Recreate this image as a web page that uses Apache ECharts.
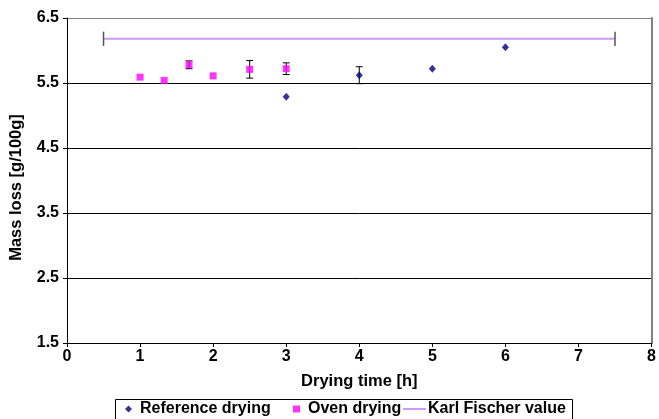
<!DOCTYPE html>
<html>
<head>
<meta charset="utf-8">
<script src="https://cdn.jsdelivr.net/npm/echarts@6/dist/echarts.min.js"></script>
<style>
  html, body { margin: 0; padding: 0; background: #fff; }
  #chart { width: 659px; height: 419px; }
</style>
</head>
<body>
<div id="chart"></div>
<script>
// ── 数据 ──
const refX = [3, 4, 5, 6];
const refY = [5.29, 5.62, 5.72, 6.05];
const refErr = [0, 0.13, 0, 0];

const ovenX = [1, 1.33, 1.67, 2, 2.5, 3];
const ovenY = [5.59, 5.54, 5.78, 5.61, 5.71, 5.72];
const ovenErr = [0, 0, 0.06, 0, 0.135, 0.09];

const kfX = [0.5, 7.5];
const kfY = [6.18, 6.18];
const kfErr = 0.11;

const yTicks = [1.5, 2.5, 3.5, 4.5, 5.5, 6.5];
const xTicks = [0, 1, 2, 3, 4, 5, 6, 7, 8];

const FONT = "'Liberation Sans', Arial, sans-serif";
const chart = echarts.init(document.getElementById('chart'));

// 误差棒：竖线 + 上下短横
function errBarRender(capHalf, color, width) {
  return function (params, api) {
    const x = api.value(0), y = api.value(1), e = api.value(2);
    if (!e) return null;
    const top = api.coord([x, y + e]);
    const bot = api.coord([x, y - e]);
    const st = { stroke: color, lineWidth: width };
    const kids = [
      { type: 'line', shape: { x1: top[0], y1: top[1], x2: bot[0], y2: bot[1] }, style: st },
    ];
    if (capHalf > 0) {
      kids.push({ type: 'line', shape: { x1: top[0] - capHalf, y1: top[1], x2: top[0] + capHalf, y2: top[1] }, style: st });
      kids.push({ type: 'line', shape: { x1: bot[0] - capHalf, y1: bot[1], x2: bot[0] + capHalf, y2: bot[1] }, style: st });
    }
    return { type: 'group', children: kids };
  };
}

const zip = (xs, ys) => xs.map((x, i) => [x, ys[i]]);
const zip3 = (xs, ys, es) => xs.map((x, i) => [x, ys[i], es[i]]);

const txt = (size) => ({ fontSize: size, fontWeight: 'bold', color: '#000', fontFamily: FONT });

chart.setOption({
  animation: false,
  textStyle: { fontFamily: FONT },
  grid: { left: 65, right: 2, top: 18, bottom: 76 },
  xAxis: {
    type: 'value', min: xTicks[0], max: xTicks[xTicks.length - 1], interval: 1,
    name: 'Drying time [h]', nameLocation: 'middle', nameGap: 30,
    nameTextStyle: txt(16.5),
    axisLine: { lineStyle: { color: '#000', width: 1 } },
    axisTick: { inside: false, length: 4, lineStyle: { color: '#000' } },
    axisLabel: Object.assign(txt(16), { margin: 6 }),
    splitLine: { show: false },
  },
  yAxis: [{
    type: 'value', min: yTicks[0], max: yTicks[yTicks.length - 1], interval: 1,
    name: 'Mass loss [g/100g]', nameLocation: 'middle', nameGap: 42,
    nameTextStyle: Object.assign(txt(16.5), { padding: [0, 14, 0, 0] }),
    axisLine: { show: true, lineStyle: { color: '#000', width: 1 } },
    axisTick: { show: true, length: 4, lineStyle: { color: '#000' } },
    axisLabel: Object.assign(txt(16), { margin: 8, formatter: v => v.toFixed(1) }),
    splitLine: { show: true, lineStyle: { color: ['#000', '#000', '#000', '#000', '#000', '#808080'], width: 1 } },
  }, {
    type: 'value', position: 'right', min: yTicks[0], max: yTicks[yTicks.length - 1],
    axisLine: { show: true, lineStyle: { color: '#808080', width: 2 } },
    axisTick: { show: false }, axisLabel: { show: false }, splitLine: { show: false },
  }],
  legend: [
    {
      data: [{ name: 'Reference drying', icon: 'diamond' }],
      left: 125, top: 401, padding: 0, itemWidth: 7, itemHeight: 7,
      textStyle: Object.assign(txt(16), { padding: [0, 0, 0, 3] }),
    },
    {
      data: [{ name: 'Oven drying', icon: 'rect' }],
      left: 293, top: 401, padding: 0, itemWidth: 7, itemHeight: 7,
      textStyle: Object.assign(txt(16), { padding: [0, 0, 0, 3] }),
    },
    {
      data: ['Karl Fischer value'],
      left: 402, top: 401, padding: 0, itemWidth: 23, itemHeight: 10, itemGap: 0,
      itemStyle: { opacity: 0 },
      textStyle: Object.assign(txt(16), { padding: [0, 0, 0, -3] }),
    },
  ],
  graphic: [{
    type: 'rect', left: 113, top: 397,
    shape: { width: 457, height: 30 },
    style: { fill: 'none', stroke: '#000', lineWidth: 1 },
    z: 100,
  }],
  series: [
    {
      name: 'Karl Fischer value', type: 'line', data: zip(kfX, kfY),
      symbol: 'none', lineStyle: { color: '#cc99ff', width: 2 }, itemStyle: { color: '#cc99ff' }, z: 2,
    },
    {
      type: 'custom', renderItem: errBarRender(0, '#555', 1.5),
      data: kfX.map((x, i) => [x, kfY[i], kfErr]), z: 3, silent: true,
    },
    {
      type: 'custom', renderItem: errBarRender(3.5, '#000', 1),
      data: zip3(ovenX, ovenY, ovenErr), z: 3, silent: true,
    },
    {
      type: 'custom', renderItem: errBarRender(3.5, '#000', 1),
      data: zip3(refX, refY, refErr), z: 3, silent: true,
    },
    {
      name: 'Reference drying', type: 'scatter', data: zip(refX, refY),
      symbol: 'diamond', symbolSize: [7, 8], itemStyle: { color: '#000080' }, z: 5,
    },
    {
      name: 'Oven drying', type: 'scatter', data: zip(ovenX, ovenY),
      symbol: 'rect', symbolSize: 7, itemStyle: { color: '#ff00ff' }, z: 5,
    },
  ],
});
</script>
</body>
</html>
